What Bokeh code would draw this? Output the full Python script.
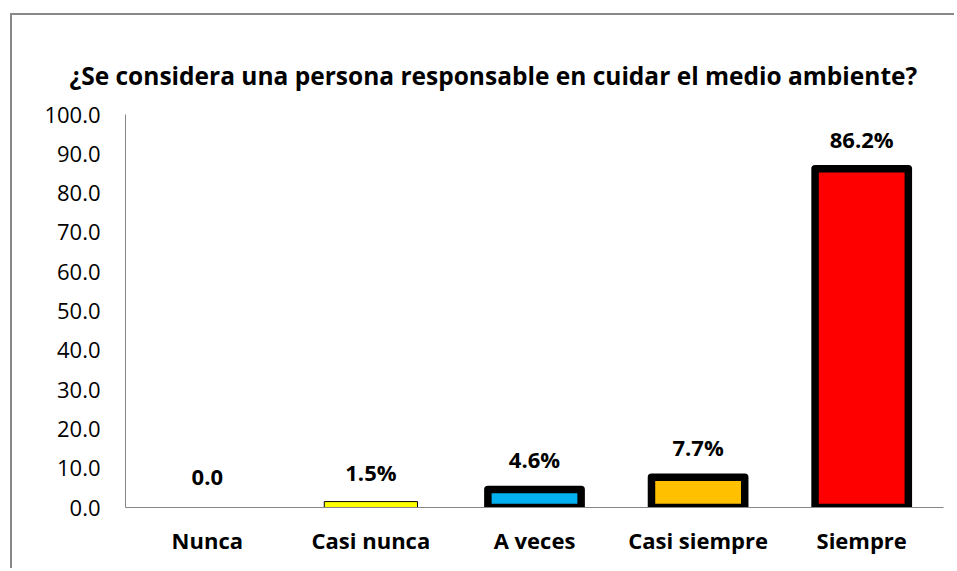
from bokeh.plotting import figure
from bokeh.models import ColumnDataSource, FixedTicker, PrintfTickFormatter
from bokeh.embed import file_html
from bokeh.resources import INLINE

categories = ["Nunca", "Casi nunca", "A veces", "Casi siempre", "Siempre"]
values = [0.0, 1.5, 4.6, 7.7, 86.2]
value_labels = ["0.0", "1.5%", "4.6%", "7.7%", "86.2%"]
y_ticks = [0, 10, 20, 30, 40, 50, 60, 70, 80, 90, 100]

bar_colors = ["#FFFFFF", "#FFFF00", "#00B0F0", "#FFC000", "#FF0000"]
bar_line_widths = [0, 1, 7.5, 7.5, 7.5]
bar_line_alphas = [0, 1, 1, 1, 1]

FONT = "Open Sans"
TITLE = "¿Se considera una persona responsable en cuidar el medio ambiente?"

src = ColumnDataSource(dict(cat=categories, val=values, lab=value_labels,
                            color=bar_colors, lw=bar_line_widths, la=bar_line_alphas))

p = figure(x_range=categories, y_range=(0, 100), width=944, height=555,
           output_backend="svg", toolbar_location=None,
           min_border_left=113, min_border_right=13, min_border_top=99, min_border_bottom=63,
           title=TITLE)
p.styles = {"margin-left": "10px", "margin-top": "13px",
            "border-left": "2px solid #898989", "border-top": "2px solid #898989"}

p.title.text_font = FONT
p.title.text_font_style = "bold"
p.title.text_font_size = "24.5px"
p.title.text_color = "black"
p.title.align = "left"
p.title.offset = -56
p.title.standoff = 46

p.vbar(x="cat", top="val", width=0.57, source=src, fill_color="color",
       line_color="black", line_width="lw", line_alpha="la", line_join="round")

p.text(x="cat", y="val", text="lab", source=src, text_align="center",
       text_baseline="middle", y_offset=-30, text_font_size="22px",
       text_font_style="bold", text_color="black",
       text_font={"value": FONT})

p.xgrid.visible = False
p.ygrid.visible = False
p.outline_line_color = None
p.background_fill_color = "white"
p.border_fill_color = "white"

p.yaxis.ticker = FixedTicker(ticks=y_ticks)
p.yaxis.formatter = PrintfTickFormatter(format="%.1f")
p.yaxis.major_tick_line_color = None
p.yaxis.minor_tick_line_color = None
p.yaxis.axis_line_color = "#868686"
p.yaxis.major_label_standoff = 19
p.yaxis.major_label_text_font = FONT
p.yaxis.major_label_text_font_size = "22px"
p.yaxis.major_label_text_color = "black"

p.xaxis.major_tick_line_color = None
p.xaxis.minor_tick_line_color = None
p.xaxis.axis_line_color = "#868686"
p.xaxis.major_label_standoff = 11
p.xaxis.major_label_text_font = FONT
p.xaxis.major_label_text_font_style = "bold"
p.xaxis.major_label_text_font_size = "22px"
p.xaxis.major_label_text_color = "black"

open("out.html", "w").write(file_html(p, INLINE))
